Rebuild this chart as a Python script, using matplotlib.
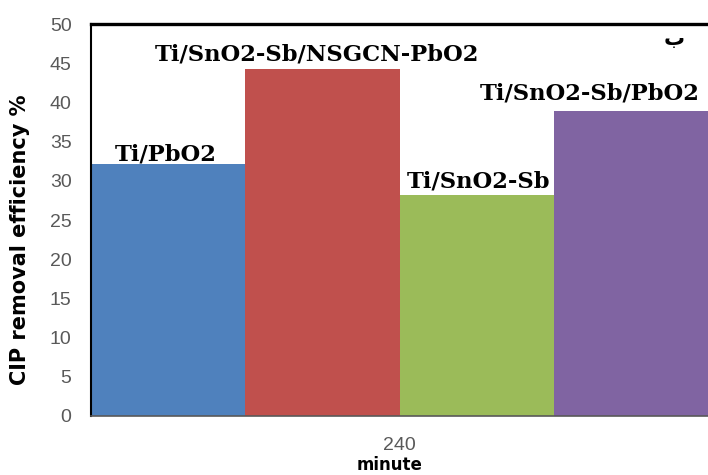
import matplotlib
matplotlib.use("Agg")
import matplotlib.pyplot as plt

categories = ["Ti/PbO2", "Ti/SnO2-Sb/NSGCN-PbO2", "Ti/SnO2-Sb", "Ti/SnO2-Sb/PbO2"]
values = [32.1, 44.3, 28.2, 38.9]
colors = ["#4F81BD", "#C0504D", "#9BBB59", "#8064A2"]
x_tick_labels = ["240"]
y_ticks = [0, 5, 10, 15, 20, 25, 30, 35, 40, 45, 50]

fig = plt.figure(figsize=(7.08, 4.75), dpi=100)
ax = fig.add_axes([91/708, 59/475, 1 - 91/708, 392/475])

xs = list(range(len(values)))
ax.bar(xs, values, width=1.0, color=colors, edgecolor="none", zorder=2)
ax.set_xlim(-0.5, len(values) - 0.5)
ax.set_ylim(0, 50)
ax.set_yticks(y_ticks)
ax.set_yticklabels([str(t) for t in y_ticks], fontsize=14, color="#595959",
                   family="Liberation Sans")
ax.tick_params(axis="y", length=0, pad=14)
ax.set_xticks([(len(values) - 1) / 2])
ax.set_xticklabels(x_tick_labels, fontsize=14, color="#595959", family="Liberation Sans")
ax.tick_params(axis="x", length=0, pad=15)

ax.spines["top"].set_linewidth(2.4)
ax.spines["top"].set_color("black")
ax.spines["left"].set_linewidth(1.5)
ax.spines["left"].set_color("black")
ax.spines["right"].set_visible(False)
ax.spines["bottom"].set_color("#595959")
ax.spines["bottom"].set_linewidth(1.2)

fig.text(20/708, 1 - 240/475, "CIP removal efficiency %", rotation=90,
         ha="center", va="center", fontsize=15, fontweight="bold", family="DejaVu Sans")
fig.text(390/708, 0.5/475, "minute", ha="center", va="bottom",
         fontsize=12, fontweight="bold", family="DejaVu Sans")

x_offsets = [-1.5, -3.6, 1.5, -29.5]
y_offsets = [3, 6, 5, 8]
for i, (lab, v) in enumerate(zip(categories, values)):
    ax.annotate(lab, xy=(xs[i], v), xytext=(x_offsets[i], y_offsets[i]),
                textcoords="offset points", ha="center", va="baseline",
                fontsize=16.3, fontweight="bold", family="DejaVu Serif",
                color="black", zorder=3)

fig.text(674/708, 1 - 45/475, "ب", ha="center", va="baseline",
         fontsize=15, fontweight="bold", family=["DejaVu Sans", "Noto Sans"])

fig.savefig("out.png", dpi=100)
